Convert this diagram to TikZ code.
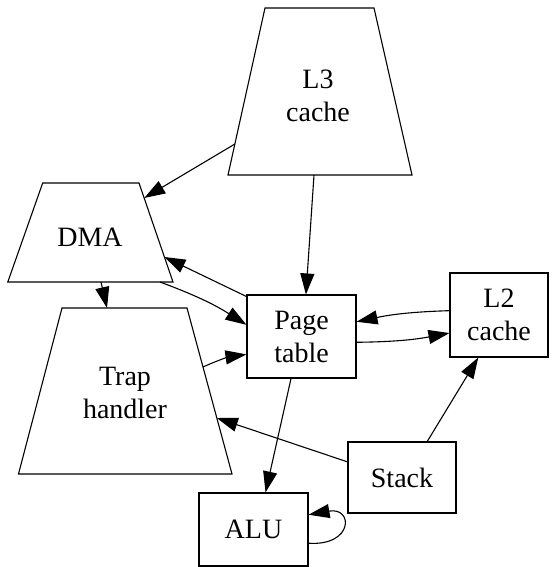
\documentclass[tikz,border=0pt]{standalone}
\usepackage{fontspec}
\setmainfont{Liberation Serif}
\usetikzlibrary{arrows.meta}
\begin{document}
\begin{tikzpicture}[x=1pt,y=-1pt,
  lbl/.style={font=\fontsize{28}{33}\selectfont, align=center, inner sep=0pt},
  box/.style={draw, line width=1.1pt, rectangle, lbl},
  outline/.style={draw, line width=1.1pt, line join=miter},
  edge/.style={line width=1.1pt, -{Triangle[length=21pt,width=14pt]}}]
\useasboundingbox (0,0) rectangle (558,567);
% trapezoid shapes
\draw[outline] (265,8) -- (374,8) -- (412,175) -- (228,175) -- cycle;
\node[lbl] (L3) at (318,96) {L3\\cache};
\draw[outline] (42.7,183) -- (139,183) -- (173,282) -- (7.8,282) -- cycle;
\node[lbl] (DMA) at (90,237) {DMA};
\draw[outline] (62,308) -- (187,308) -- (232,474) -- (18.5,474) -- cycle;
\node[lbl] (Trap) at (125,393) {Trap\\handler};
% border points of the trapezoids
\coordinate (L3w) at (234.9,144);
\coordinate (L3s) at (314,175);
\coordinate (DMAne) at (144.2,198);
\coordinate (DMAe) at (164.4,257);
\coordinate (DMAse) at (160,282);
\coordinate (DMAs) at (101,282);
\coordinate (Trapn) at (107,308);
\coordinate (Trape) at (203,367);
\coordinate (Trapse) at (216.8,418);
% boxes
\node[box, minimum width=109pt, minimum height=83pt] (PT) at (301.5,336.5) {Page\\table};
\node[box, minimum width=98pt, minimum height=84pt] (L2) at (499,315) {L2\\cache};
\node[box, minimum width=109pt, minimum height=73pt] (ALU) at (253.5,529.5) {ALU};
\node[box, minimum width=108pt, minimum height=71pt] (Stack) at (402,477.5) {Stack};
% connectors
\draw[edge] (L3w) -- (DMAne);
\draw[edge] (L3s) -- (PT.84);
\draw[edge] (PT.144) -- (DMAe);
\draw[edge] (DMAse) to[bend left=6] (PT.168);
\draw[edge] (DMAs) -- (Trapn);
\draw[edge] (Trape) to[bend left=8] (PT.198);
\draw[edge] (L2.175) to[bend right=5] (PT.15);
\draw[edge] (PT.-6) to[bend right=5] (L2.200);
\draw[edge] (PT.256) -- (ALU.72);
\draw[edge] (Stack.164) -- (Trapse);
\draw[edge] (Stack.55) -- (L2.244);
\draw[edge] (ALU.-14) .. controls +(45,3) and +(45,-8) .. (ALU.15);
\end{tikzpicture}
\end{document}
